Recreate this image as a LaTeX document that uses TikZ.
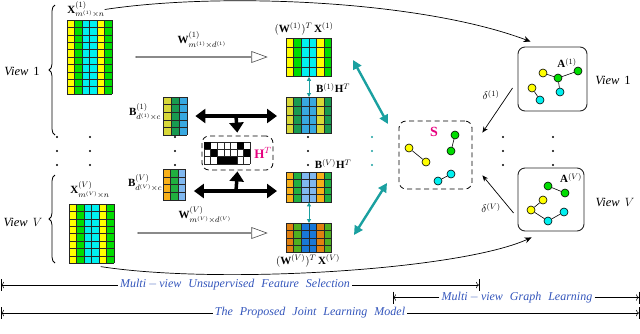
\documentclass[tikz,border=0pt]{standalone}
\usepackage{fontspec}
\setmainfont{Liberation Serif}
\usetikzlibrary{arrows.meta,shapes.arrows,decorations.pathreplacing,calc}

\definecolor{myyellow}{HTML}{FFFF00}
\definecolor{mygreen}{HTML}{00DD00}
\definecolor{mycyan}{HTML}{00F0F0}
\definecolor{olivey}{HTML}{D8D838}
\definecolor{dgreen}{HTML}{189A50}
\definecolor{skyb}{HTML}{38A8E0}
\definecolor{orangey}{HTML}{F8B018}
\definecolor{midgreen}{HTML}{20B040}
\definecolor{lightb}{HTML}{80B8F0}
\definecolor{dorange}{HTML}{E08010}
\definecolor{limeg}{HTML}{50B020}
\definecolor{deepb}{HTML}{1878D8}
\definecolor{tealc}{HTML}{1AA0A0}
\definecolor{magen}{HTML}{E6007E}
\definecolor{spanblue}{HTML}{3355BB}

\tikzset{
  gridline/.style={draw=black!85, line width=0.45pt},
  gnode/.style={circle, draw, line width=0.6pt, inner sep=0pt, minimum size=8pt},
  gedge/.style={line width=0.6pt},
  hollowarrow/.style={single arrow, draw=black!70, fill=white, line width=0.6pt,
    minimum width=11pt, single arrow head extend=2.5pt, single arrow tip angle=40, inner sep=0pt},
  fathead/.tip={Triangle[length=10pt,width=14pt]},
  fatarrow/.style={line width=3.5pt, -fathead},
  fatboth/.style={line width=3.5pt, fathead-fathead},
  tealsmall/.style={tealc, line width=1pt, {Triangle[length=4pt,width=4pt]}-{Triangle[length=4pt,width=4pt]}},
  tealbig/.style={tealc, line width=2.4pt, {Triangle[length=9pt,width=9pt]}-{Triangle[length=9pt,width=9pt]}},
  curvearrow/.style={line width=0.7pt, -{Stealth[length=7pt,width=6pt]}},
  graphbox/.style={draw=black!85, line width=0.9pt, rounded corners=7pt, inner sep=0pt},
  dashbox/.style={draw, line width=0.8pt, dash pattern=on 5pt off 3.5pt, rounded corners=7pt, inner sep=0pt},
  spanarrow/.style={line width=0.6pt, -{To[length=3pt]}},
  spantext/.style={text=spanblue, font=\fontsize{12}{13}\selectfont\itshape, inner sep=2pt},
  mlab/.style={font=\fontsize{11}{13}\selectfont, inner sep=0pt},
  biglab/.style={font=\fontsize{14}{16}\selectfont, inner sep=0pt, text=magen},
  viewlab/.style={font=\fontsize{12.5}{14}\selectfont, inner sep=0pt},
}

% coloured data matrix: name, left, top, columns, rows, cell width, cell height, colours
\newcommand{\colgrid}[8]{%
  \foreach \col [count=\i from 0] in {#8}
    \fill[\col] ({#2+\i*#6},#3) rectangle ++(#6,{#5*#7});
  \foreach \i in {0,...,#4}
    \draw[gridline] ({#2+\i*#6},#3) -- ++(0,{#5*#7});
  \foreach \j in {0,...,#5}
    \draw[gridline] (#2,{#3+\j*#7}) -- ++({#4*#6},0);
  \node[inner sep=0pt, minimum width={#4*#6pt}, minimum height={#5*#7pt}, anchor=north west] (#1) at (#2,#3) {};
}

\begin{document}
\begin{tikzpicture}[x=1pt,y=-1pt]
\useasboundingbox (0,0) rectangle (640,333);

% data matrices
\colgrid{X1}{67}{20}{6}{10}{7.5}{7.4}{myyellow,mygreen,mycyan,mycyan,myyellow,mygreen}
\colgrid{XV}{69}{204}{6}{8}{7.5}{7.4}{myyellow,mygreen,mycyan,mycyan,myyellow,mygreen}
\node[mlab] (x1lab) at (86,9.5) {$\mathbf{X}^{(1)}_{m^{(1)}\times n}$};
\node[mlab] (xVlab) at (90,190) {$\mathbf{X}^{(V)}_{m^{(V)}\times n}$};

% braces and views
\draw[line width=0.8pt, decorate, decoration={brace, amplitude=6pt}] (55,135) -- (55,5);
\draw[line width=0.8pt, decorate, decoration={brace, amplitude=6pt}] (55,263) -- (55,175);
\node[viewlab] (view1) at (22,71) {\textit{View}\hspace{5pt}1};
\node[viewlab] (viewV) at (23,222) {\textit{View}\hspace{5pt}$V$};

% projections
\node[hollowarrow, minimum height=131pt] (w1arrow) at (200.5,57) {};
\node[hollowarrow, minimum height=129pt] (wVarrow) at (201.5,233) {};
\node[mlab] (w1lab) at (202,40) {$\mathbf{W}^{(1)}_{m^{(1)}\times d^{(1)}}$};
\node[mlab] (wVlab) at (205,215) {$\mathbf{W}^{(V)}_{m^{(V)}\times d^{(V)}}$};

\colgrid{WX1}{286}{38}{6}{4}{7.6}{9.6}{myyellow,mygreen,mycyan,mycyan,myyellow,mygreen}
\colgrid{BH1}{286}{97}{6}{4}{7.6}{9}{olivey,dgreen,skyb,skyb,olivey,dgreen}
\colgrid{BHV}{286}{172}{6}{4}{7.6}{7.5}{orangey,midgreen,lightb,lightb,orangey,midgreen}
\colgrid{WXV}{286}{223}{6}{4}{7.6}{7.4}{dorange,limeg,deepb,deepb,dorange,limeg}
\node[mlab] (wx1lab) at (304,29) {$(\mathbf{W}^{(1)})^T\,\mathbf{X}^{(1)}$};
\node[mlab] (wxVlab) at (308,261) {$(\mathbf{W}^{(V)})^T\,\mathbf{X}^{(V)}$};
\node[mlab] (bh1lab) at (333,88) {$\mathbf{B}^{(1)}\mathbf{H}^T$};
\node[mlab] (bhVlab) at (333,164) {$\mathbf{B}^{(V)}\mathbf{H}^T$};
\draw[tealsmall] (WX1.south) -- (BH1.north);
\draw[tealsmall] (BHV.south) -- (WXV.north);

% bases and indicator matrix
\colgrid{B1}{163}{97}{3}{5}{8}{7.6}{olivey,dgreen,skyb}
\colgrid{BV}{163}{169}{3}{4}{7.5}{7.75}{orangey,midgreen,lightb}
\node[mlab] (b1lab) at (145,112) {$\mathbf{B}^{(1)}_{d^{(1)}\times c}$};
\node[mlab] (bVlab) at (145,183) {$\mathbf{B}^{(V)}_{d^{(V)}\times c}$};

\node[dashbox, minimum width=71pt, minimum height=34pt] (htbox) at (237.5,153) {};
\colgrid{Ht}{204}{142}{7}{3}{6.6}{7.3}{white,white,white,white,white,white,white}
\foreach \cc/\rr in {0/0,5/0,1/1,6/1,2/2,3/2,4/2}
  \fill ({204+\cc*6.6},{142+\rr*7.3}) rectangle ++(6.6,7.3);
\node[biglab, font=\fontsize{13}{15}\selectfont] (htlab) at (263,153) {$\mathbf{H}^T$};

\coordinate (highbar) at (236,116);
\coordinate (lowbar) at (236,191);
\draw[fatboth] ([xshift=8pt]B1.east |- highbar) -- ([xshift=-9pt]BH1.west |- highbar);
\draw[fatarrow, shorten >=3pt] (highbar) -- (htbox.north);
\draw[fatboth] ([xshift=8pt]BV.east |- lowbar) -- ([xshift=-9pt]BHV.west |- lowbar);
\draw[fatarrow, shorten >=1pt] (lowbar) -- (htbox.south);

% dots
\foreach \dx in {57,90,175,308,503,553}
  \foreach \dy in {137,151,165}
    \fill (\dx,\dy) circle (1.1pt);
\foreach \dy in {137,151,165}
  \fill[tealc] (372,\dy) circle (1.1pt);

% consensus graph
\node[dashbox, minimum width=73pt, minimum height=68pt] (sbox) at (435.5,155) {};
\node[biglab] (slab) at (434,132) {$\mathbf{S}$};
\node[gnode, fill=myyellow] (s1) at (409,148) {};
\node[gnode, fill=myyellow] (s2) at (426,162) {};
\node[gnode, fill=mygreen] (s3) at (455,135) {};
\node[gnode, fill=mygreen] (s4) at (451,151) {};
\node[gnode, fill=mycyan] (s5) at (438,181) {};
\node[gnode, fill=mycyan] (s6) at (451,174) {};
\draw[gedge] (s1) -- (s2) (s3) -- (s4) (s5) -- (s6);

\coordinate (tealA) at (353,60);
\coordinate (tealB) at (388,124);
\coordinate (tealC) at (387,183);
\coordinate (tealD) at (354,235);
\draw[tealbig] (tealA) -- (tealB);
\draw[tealbig] (tealC) -- (tealD);

% view graphs
\node[graphbox, minimum width=69pt, minimum height=64pt] (A1box) at (552.5,79) {};
\node[mlab] (a1lab) at (567,63) {$\mathbf{A}^{(1)}$};
\node[gnode, fill=myyellow] (a1) at (543,73) {};
\node[gnode, fill=mygreen] (a2) at (558,78) {};
\node[gnode, fill=mygreen] (a3) at (578,71) {};
\node[gnode, fill=mycyan] (a4) at (560,92) {};
\node[gnode, fill=myyellow] (a5) at (532,88) {};
\node[gnode, fill=mycyan] (a6) at (540,100) {};
\draw[gedge] (a1) -- (a2) -- (a3) (a2) -- (a4) (a5) -- (a6);

\node[graphbox, minimum width=66pt, minimum height=63pt] (AVbox) at (551,199.5) {};
\node[mlab] (aVlab) at (571,178) {$\mathbf{A}^{(V)}$};
\node[gnode, fill=mygreen] (v1) at (548,186) {};
\node[gnode, fill=mygreen] (v2) at (565,193) {};
\node[gnode, fill=myyellow] (v3) at (543,200) {};
\node[gnode, fill=myyellow] (v4) at (531,210) {};
\node[gnode, fill=mycyan] (v5) at (548,221) {};
\node[gnode, fill=mycyan] (v6) at (564,212) {};
\draw[gedge] (v1) -- (v2) (v3) -- (v4) -- (v5) -- (v6);

\node[viewlab] (rview1) at (613,80) {\textit{View}\hspace{5pt}1};
\node[viewlab] (rviewV) at (615,202) {\textit{View}\hspace{5pt}$V$};

\draw[curvearrow] (x1lab.east) .. controls (220,-8) and (420,0) .. ([shift={(13pt,5pt)}]A1box.north west);
\draw[curvearrow] ([shift={(9pt,-3pt)}]XV.south) .. controls (220,285) and (460,270) .. ([shift={(14pt,-6pt)}]AVbox.south west);

\draw[line width=0.7pt, -{Stealth[length=6pt,width=5pt]}] ([shift={(-5pt,-9pt)}]A1box.west) -- ([shift={(10pt,-12pt)}]sbox.north east);
\draw[line width=0.7pt, -{Stealth[length=6pt,width=5pt]}] ([shift={(-4pt,-13.5pt)}]AVbox.west) -- ([shift={(10pt,14pt)}]sbox.south east);
\node[mlab] (d1lab) at (491,95) {$\delta^{(1)}$};
\node[mlab] (dVlab) at (491,208) {$\delta^{(V)}$};

% spans
\node[spantext] (fslab) at (235,285) {Multi\,$-$\,view\hspace{7pt}Unsupervised\hspace{7pt}Feature\hspace{7pt}Selection};
\node[spantext] (gllab) at (517,297.5) {Multi\,$-$\,view\hspace{7pt}Graph\hspace{7pt}Learning};
\node[spantext] (jllab) at (310,313) {The\hspace{7pt}Proposed\hspace{7pt}Joint\hspace{7pt}Learning\hspace{7pt}Model};
\coordinate (fsL) at (1,285);
\coordinate (fsR) at (479,285);
\coordinate (glL) at (393,297.5);
\coordinate (glR) at (639,297.5);
\coordinate (jlL) at (1,313);
\coordinate (jlR) at (639,313);
\foreach \b in {fsL,fsR,glL,glR,jlL,jlR}
  \draw[line width=0.8pt] (\b) ++(0,-6) -- ++(0,12);
\draw[spanarrow] (fslab.west) -- (fsL);
\draw[spanarrow] (fslab.east) -- (fsR);
\draw[spanarrow] (gllab.west) -- (glL);
\draw[spanarrow] (gllab.east) -- (glR);
\draw[spanarrow] (jllab.west) -- (jlL);
\draw[spanarrow] (jllab.east) -- (jlR);
\end{tikzpicture}
\end{document}
